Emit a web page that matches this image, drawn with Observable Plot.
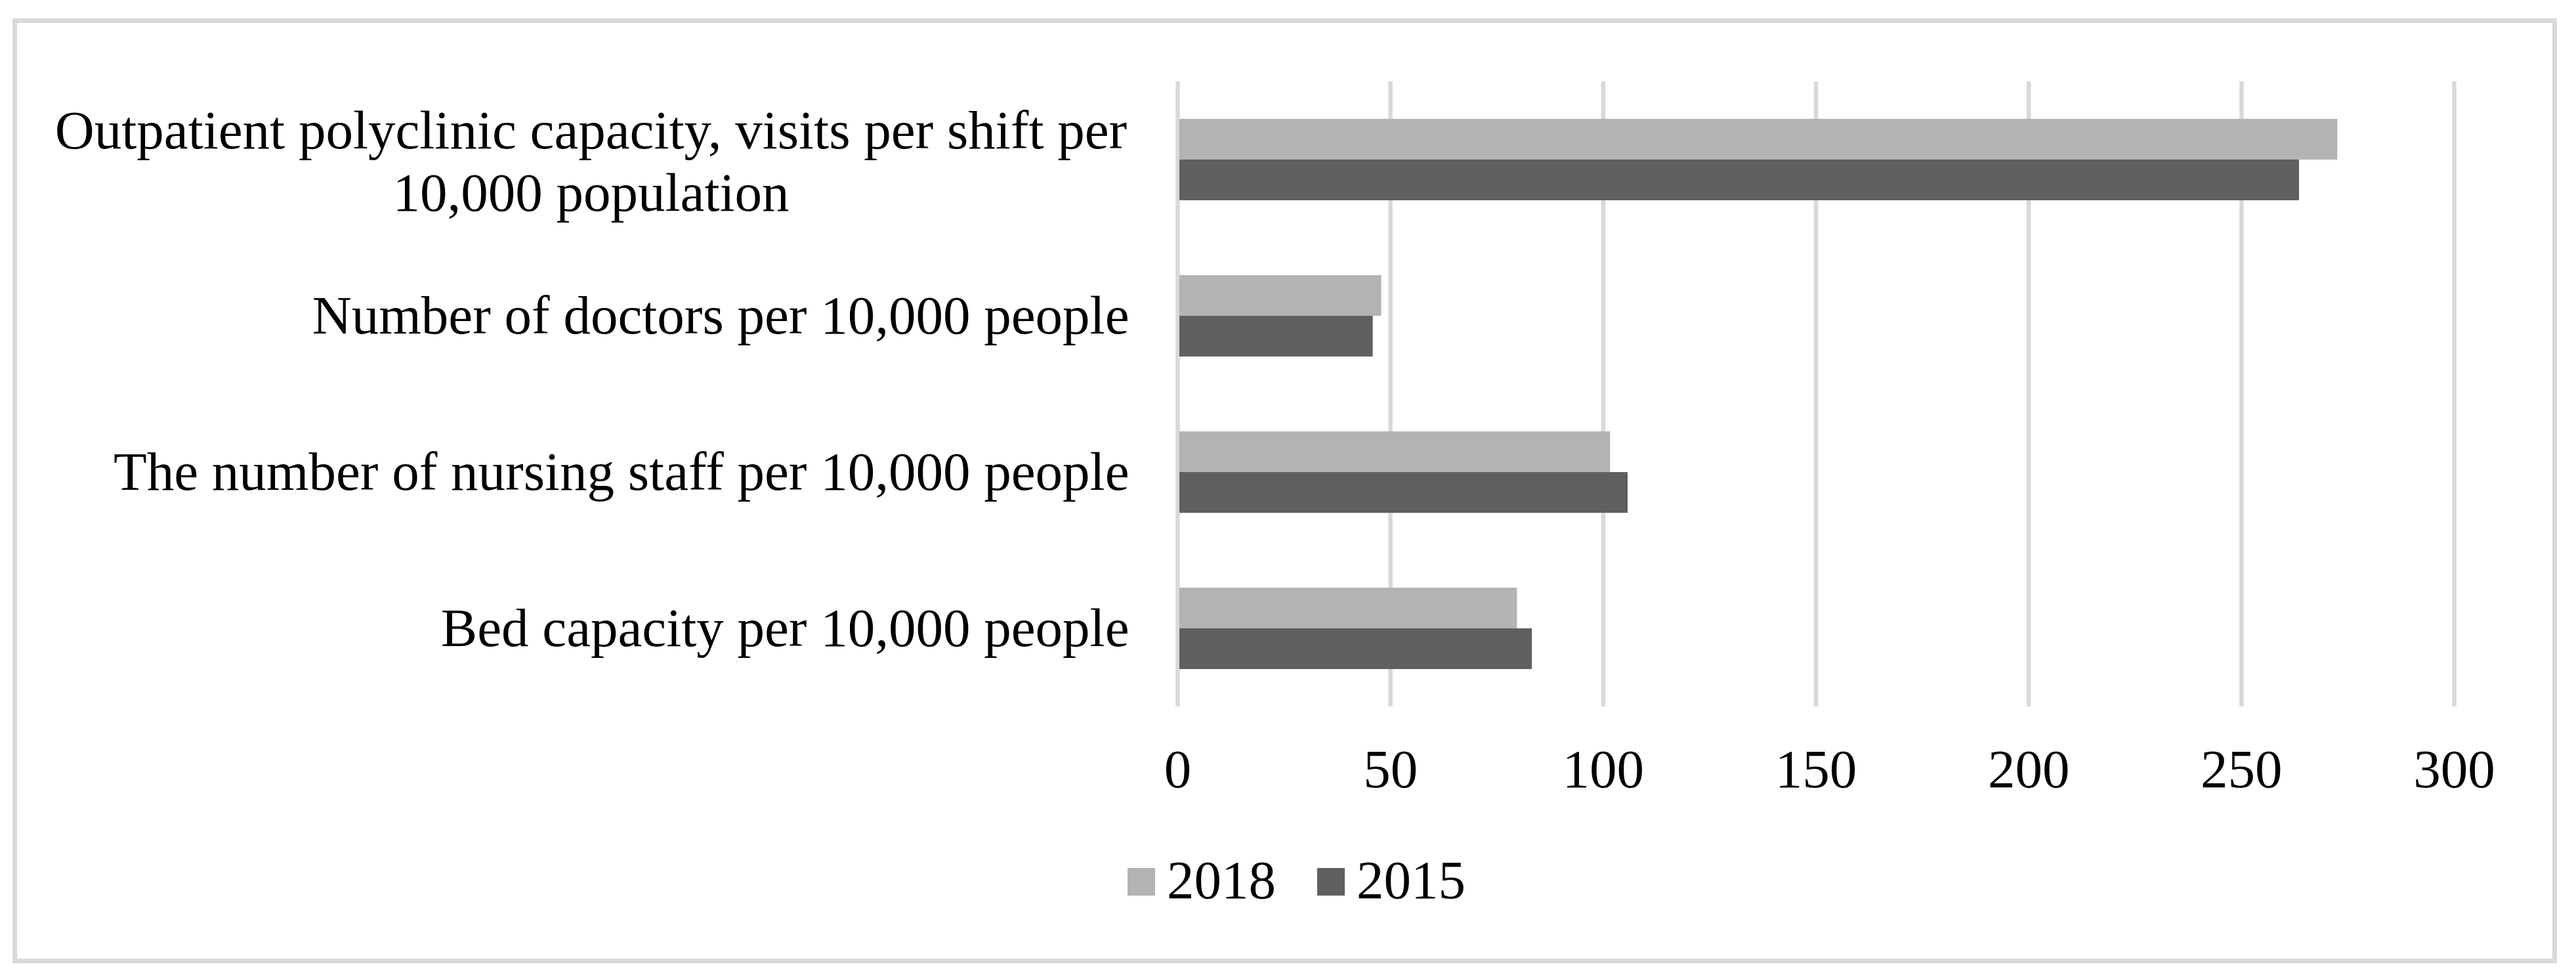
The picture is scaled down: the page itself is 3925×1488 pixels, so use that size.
<!DOCTYPE html>
<html>
<head>
<meta charset="utf-8">
<script src="https://cdn.jsdelivr.net/npm/d3@7"></script>
<script src="https://cdn.jsdelivr.net/npm/@observablehq/plot@0.6"></script>
<style>
  html, body { margin: 0; padding: 0; background: #ffffff; }
  #page { position: relative; width: 3925px; height: 1488px; overflow: hidden; background: #fff;
          font-family: "Liberation Serif", "Times New Roman", serif; }
  #frame { position: absolute; left: 19px; top: 28px; width: 3877px; height: 1439px;
           box-sizing: border-box; border: 7px solid #d9d9d9; }
  #chart { position: absolute; left: 0; top: 0; }
  #legend { position: absolute; left: 1718px; top: 1299px; display: flex; align-items: center;
            font-size: 83px; line-height: 83px; color: #000; }
  .item { display: flex; align-items: center; margin-right: 63px; }
  .sw { width: 42px; height: 42px; margin-right: 18px; margin-top: 5px; }
</style>
</head>
<body>
<div id="page">
  <div id="frame"></div>
  <div id="chart"></div>
  <div id="legend"></div>
</div>
<script>
// ---- data ----
const categories = [
  "Outpatient polyclinic capacity, visits per shift per\n10,000 population",
  "Number of doctors per 10,000 people",
  "The number of nursing staff per 10,000 people",
  "Bed capacity per 10,000 people"
];
const years = ["2018", "2015"];
const values2018 = [272.6, 47.9, 101.7, 79.8];
const values2015 = [263.6, 45.9, 105.8, 83.3];
const xTicks = [0, 50, 100, 150, 200, 250, 300];
const yearColors = ["#b3b3b3", "#5f5f5f"];

const seriesValues = {"2018": values2018, "2015": values2015};
const data = categories.flatMap((c, i) => years.map(y => ({category: c, year: y, value: seriesValues[y][i]})));

const W = 3925, H = 1240;
const chart = Plot.plot({
  width: W,
  height: H,
  marginTop: 123,
  marginBottom: H - 1077,
  marginLeft: 1794,
  marginRight: W - 3739,
  style: {fontFamily: "'Liberation Serif', 'Times New Roman', serif", fontSize: "83px", color: "#000", background: "transparent", overflow: "visible"},
  x: {domain: [0, 300], ticks: xTicks, label: null},
  y: {domain: years, paddingInner: 0, paddingOuter: 0.908, axis: null},
  fy: {domain: categories, padding: 0, label: null, axis: null},
  color: {domain: years, range: yearColors},
  marks: [
    Plot.gridX(xTicks, {stroke: "#d9d9d9", strokeWidth: 6.5, strokeOpacity: 1}),
    Plot.barX(data, {fy: "category", y: "year", x: "value", fill: "year", insetLeft: 3}),
    Plot.axisX(xTicks, {anchor: "bottom", tickSize: 0, tickPadding: 64, fontSize: 83, label: null}),
    Plot.text(categories.slice(1), {fy: d => d, text: d => d, frameAnchor: "left", textAnchor: "end", dx: -74, fontSize: 83, fill: "#000"}),
    Plot.text(categories.slice(0, 1), {fy: d => d, text: d => d, frameAnchor: "left", textAnchor: "middle", dx: -894, lineHeight: 1.145, fontSize: 83, fill: "#000"})
  ]
});
document.getElementById("chart").appendChild(chart);

// ---- legend ----
const legend = document.getElementById("legend");
years.forEach((y, i) => {
  const item = document.createElement("div");
  item.className = "item";
  const sw = document.createElement("div");
  sw.className = "sw";
  sw.style.background = yearColors[i];
  const t = document.createElement("span");
  t.textContent = y;
  item.appendChild(sw);
  item.appendChild(t);
  legend.appendChild(item);
});
</script>
</body>
</html>
